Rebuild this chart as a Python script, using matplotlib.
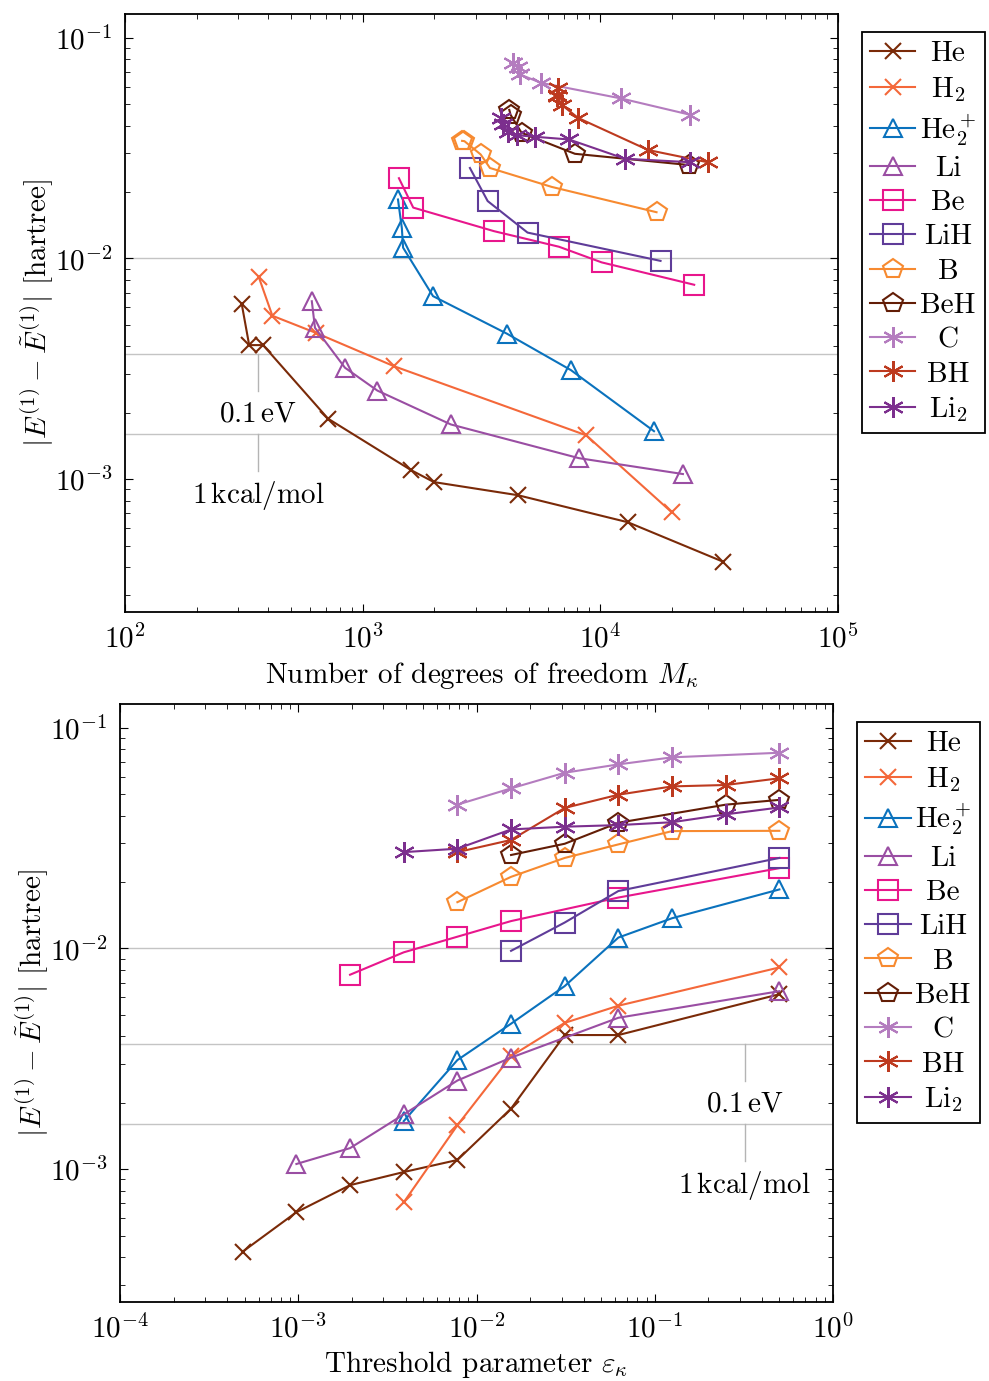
import matplotlib
matplotlib.use('Agg')
import matplotlib.pyplot as plt

plt.rcParams['font.family'] = 'serif'
plt.rcParams['font.serif'] = ['cmr10', 'DejaVu Serif']
plt.rcParams['mathtext.fontset'] = 'cm'
plt.rcParams['axes.formatter.use_mathtext'] = True
plt.rcParams['axes.unicode_minus'] = False

# Threshold parameters, degrees of freedom and errors per system.
he_eps = [0.5, 0.0625, 0.03125, 0.015625, 0.0078125, 0.00390625, 0.001953125, 0.0009765625, 0.00048828125]
he_dof = [310, 333, 381, 715, 1596, 1995, 4500, 13060, 32800]
he_err = [6.2e-3, 4.05e-3, 4.05e-3, 1.88e-3, 1.10e-3, 9.7e-4, 8.46e-4, 6.38e-4, 4.23e-4]

h2_eps = [0.5, 0.0625, 0.03125, 0.015625, 0.0078125, 0.00390625]
h2_dof = [366, 417, 636, 1354, 8730, 20000]
h2_err = [8.2e-3, 5.5e-3, 4.6e-3, 3.25e-3, 1.58e-3, 7.07e-4]

he2p_eps = [0.5, 0.125, 0.0625, 0.03125, 0.015625, 0.0078125, 0.00390625]
he2p_dof = [1408, 1462, 1479, 1977, 4050, 7520, 16820]
he2p_err = [1.85e-2, 1.37e-2, 1.12e-2, 6.75e-3, 4.56e-3, 3.12e-3, 1.65e-3]

li_eps = [0.5, 0.0625, 0.015625, 0.0078125, 0.00390625, 0.001953125, 0.0009765625]
li_dof = [611, 630, 842, 1153, 2350, 8130, 22260]
li_err = [6.4e-3, 4.85e-3, 3.2e-3, 2.52e-3, 1.77e-3, 1.245e-3, 1.055e-3]

be_eps = [0.5, 0.0625, 0.015625, 0.0078125, 0.00390625, 0.001953125]
be_dof = [1421, 1632, 3565, 6700, 10130, 24830]
be_err = [2.31e-2, 1.70e-2, 1.33e-2, 1.13e-2, 9.6e-3, 7.6e-3]

lih_eps = [0.5, 0.0625, 0.03125, 0.015625]
lih_dof = [2827, 3357, 4940, 17920]
lih_err = [2.57e-2, 1.82e-2, 1.31e-2, 9.75e-3]

b_eps = [0.5, 0.125, 0.0625, 0.03125, 0.015625, 0.0078125]
b_dof = [2620, 2680, 3137, 3432, 6240, 17240]
b_err = [3.41e-2, 3.40e-2, 2.96e-2, 2.57e-2, 2.11e-2, 1.62e-2]

beh_eps = [0.5, 0.25, 0.0625, 0.03125, 0.015625]
beh_dof = [4140, 4190, 4660, 7820, 23660]
beh_err = [4.71e-2, 4.48e-2, 3.71e-2, 2.98e-2, 2.65e-2]

c_eps = [0.5, 0.125, 0.0625, 0.03125, 0.015625, 0.0078125]
c_dof = [4272, 4484, 4586, 5620, 12210, 23830]
c_err = [7.7e-2, 7.34e-2, 6.82e-2, 6.25e-2, 5.31e-2, 4.48e-2]

bh_eps = [0.5, 0.25, 0.125, 0.0625, 0.03125, 0.015625, 0.0078125]
bh_dof = [6650, 6550, 6600, 6870, 8070, 15890, 28250]
bh_err = [5.9e-2, 5.5e-2, 5.42e-2, 4.97e-2, 4.33e-2, 3.1e-2, 2.73e-2]

li2_eps = [0.5, 0.25, 0.125, 0.0625, 0.03125, 0.015625, 0.0078125, 0.00390625]
li2_dof = [3807, 3900, 4093, 4440, 5300, 7390, 12690, 23820]
li2_err = [4.35e-2, 4.05e-2, 3.73e-2, 3.62e-2, 3.56e-2, 3.46e-2, 2.83e-2, 2.73e-2]

ev = 3.675e-3        # 0.1 eV in hartree
kcal = 1.594e-3      # 1 kcal/mol in hartree

star = (6, 2, 0)
series = [
    ('He', he_dof, he_eps, he_err, '#7a2a08', 'x', 11),
    ('H$_2$', h2_dof, h2_eps, h2_err, '#f4683a', 'x', 11),
    ('He$_2^+$', he2p_dof, he2p_eps, he2p_err, '#0a72bd', '^', 13),
    ('Li', li_dof, li_eps, li_err, '#9a4ea3', '^', 13),
    ('Be', be_dof, be_eps, be_err, '#e8168c', 's', 15),
    ('LiH', lih_dof, lih_eps, lih_err, '#5f3c99', 's', 15),
    ('B', b_dof, b_eps, b_err, '#f78a30', 'p', 15),
    ('BeH', beh_dof, beh_eps, beh_err, '#621d06', 'p', 15),
    ('C', c_dof, c_eps, c_err, '#b47cbf', star, 15),
    ('BH', bh_dof, bh_eps, bh_err, '#bd3a1f', star, 15),
    ('Li$_2$', li2_dof, li2_eps, li2_err, '#7c2f8e', star, 15),
]

fs = 21
fig = plt.figure(figsize=(9.89, 13.81), dpi=100)
ax1 = fig.add_axes([0.1264, 0.5568, 0.7209, 0.4330])
ax2 = fig.add_axes([0.1213, 0.0572, 0.7210, 0.4330])

legends = []
for ax, use_dof in [(ax1, True), (ax2, False)]:
    for y in [1e-2, ev, kcal]:
        ax.axhline(y, color='#c4c4c4', lw=1.0, zorder=0)
    for name, dof, eps, err, col, mk, ms in series:
        xs = dof if use_dof else eps
        ax.plot(xs, err, color=col, marker=mk, ms=ms, mfc='none', mec=col,
                mew=1.5, lw=1.5, label=name)
    ax.set_xscale('log')
    ax.set_yscale('log')
    ax.set_ylim(2.5e-4, 0.128)
    ax.tick_params(which='both', direction='in', top=True, right=True,
                   labelsize=fs)
    ax.tick_params(which='major', length=6, pad=9)
    ax.tick_params(which='minor', length=3.5)
    for s in ax.spines.values():
        s.set_linewidth(1.3)
    ax.set_ylabel(r'$|E^{(1)} - \tilde{E}^{(1)}|$ [hartree]', fontsize=fs, labelpad=-1)
    leg = ax.legend(loc='upper left', bbox_to_anchor=(1.033, 0.97),
                    fontsize=fs, frameon=True, fancybox=False,
                    edgecolor='black', framealpha=1, handlelength=1.55,
                    handletextpad=0.15, labelspacing=0.27, borderaxespad=0,
                    borderpad=0.3)
    leg.get_frame().set_linewidth(1.3)
    legends.append(leg)

ax1.set_xlim(1e2, 1e5)
ax2.set_xlim(1e-4, 1e0)
ax1.set_xlabel(r'Number of degrees of freedom $M_\kappa$', fontsize=fs, labelpad=4)
ax2.set_xlabel(r'Threshold parameter $\varepsilon_\kappa$', fontsize=fs, labelpad=4)

# Pins from the reference lines down to their labels.
for ax, xp in [(ax1, 363), (ax2, 0.32)]:
    ax.plot([xp, xp], [ev, 2.5e-3], color='#b4b4b4', lw=1.0)
    ax.plot([xp, xp], [kcal, 1.09e-3], color='#b4b4b4', lw=1.0)
    ax.text(xp, 1.97e-3, r'0.1$\,$eV', ha='center', va='center', fontsize=fs)
    ax.text(xp, 8.4e-4, r'1$\,$kcal/mol', ha='center', va='center', fontsize=fs)

# Center the legend labels like the original.
fig.canvas.draw()
renderer = fig.canvas.get_renderer()
for leg in legends:
    texts = leg.get_texts()
    widths = [t.get_window_extent(renderer).width for t in texts]
    wmax = max(widths)
    for t, w in zip(texts, widths):
        t.set_position(((wmax - w) / 2, 0))

fig.savefig('out.png', dpi=100)
